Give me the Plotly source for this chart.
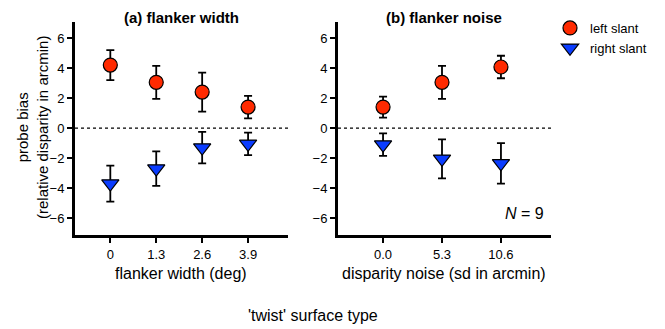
import plotly.graph_objects as go

# ---- data ----
width_x = [0, 1.3, 2.6, 3.9]
width_labels = ["0", "1.3", "2.6", "3.9"]
width_left = [4.2, 3.05, 2.4, 1.4]
width_left_err = [1.0, 1.1, 1.3, 0.75]
width_right = [-3.7, -2.7, -1.3, -1.05]
width_right_err = [1.2, 1.15, 1.05, 0.75]

noise_x = [0.0, 5.3, 10.6]
noise_labels = ["0.0", "5.3", "10.6"]
noise_left = [1.4, 3.05, 4.07]
noise_left_err = [0.7, 1.1, 0.75]
noise_right = [-1.1, -2.05, -2.35]
noise_right_err = [0.75, 1.3, 1.35]

y_ticks = [-6, -4, -2, 0, 2, 4, 6]

RED = "#ff2a00"
BLUE = "#0a3cff"
FONT = "Liberation Sans, Arial, Helvetica, sans-serif"

fig = go.Figure()

def add_series(x, y, err, xa, ya, name, color, symbol, size, show):
    fig.add_trace(go.Scatter(
        x=x, y=y, xaxis=xa, yaxis=ya, mode="markers", name=name,
        showlegend=show,
        marker=dict(color=color, symbol=symbol, size=size,
                    line=dict(color="black", width=1.2)),
        error_y=dict(type="data", array=err, visible=True,
                     color="black", thickness=1.8, width=4),
    ))

add_series(width_x, width_left, width_left_err, "x", "y", "left slant", RED, "circle", 14, True)
add_series(width_x, width_right, width_right_err, "x", "y", "right slant", BLUE, "triangle-down", 15, True)
add_series(noise_x, noise_left, noise_left_err, "x2", "y2", "left slant", RED, "circle", 14, False)
add_series(noise_x, noise_right, noise_right_err, "x2", "y2", "right slant", BLUE, "triangle-down", 15, False)

# page body has an 8px margin; work in screen pixels and convert
OFF = 8
W, H = 665 - OFF, 329 - OFF

def px(X):
    return (X - OFF) / W

def py(Y):
    return 1 - (Y - OFF) / H

axis_common = dict(showline=True, linecolor="black", linewidth=3, ticks="outside",
                   ticklen=5, tickwidth=1.5, tickcolor="black", showgrid=False,
                   zeroline=False, tickfont=dict(family=FONT, size=13, color="black"))

fig.update_layout(
    width=W, height=H, margin=dict(l=0, r=0, t=0, b=0),
    paper_bgcolor="white", plot_bgcolor="white",
    font=dict(family=FONT, color="black"),
    xaxis=dict(domain=[px(75), px(288)], range=[-1.0, 5.03], tickvals=width_x,
               ticktext=width_labels, anchor="y", **axis_common),
    yaxis=dict(domain=[py(235), py(22)], range=[-7.13, 7.07], tickvals=y_ticks,
               anchor="x", **axis_common),
    xaxis2=dict(domain=[px(338), px(551)], range=[-4.05, 15.1], tickvals=noise_x,
                ticktext=noise_labels, anchor="y2", **axis_common),
    yaxis2=dict(domain=[py(235), py(22)], range=[-7.13, 7.07], tickvals=y_ticks,
                anchor="x2", **axis_common),
    legend=dict(x=px(550), y=py(13), xanchor="left", yanchor="top",
                font=dict(family=FONT, size=13, color="black"),
                bgcolor="rgba(0,0,0,0)", tracegroupgap=0),
    showlegend=True,
)

# dotted zero lines
for xr, yr in (("x domain", "y"), ("x2 domain", "y2")):
    fig.add_shape(type="line", xref=xr, yref=yr, x0=0, x1=1, y0=0, y1=0,
                  line=dict(color="black", width=1.2, dash="dot"))

def ann(text, x, y, size, bold=False, angle=0):
    fig.add_annotation(text=f"<b>{text}</b>" if bold else text, x=px(x), y=py(y),
                       xref="paper", yref="paper", showarrow=False,
                       xanchor="center", yanchor="middle", textangle=angle,
                       font=dict(family=FONT, size=size, color="black"))

ann("(a) flanker width", 181, 17, 15, bold=True)
ann("(b) flanker noise", 444, 17, 15, bold=True)
ann("flanker width (deg)", 181, 273, 16)
ann("disparity noise (sd in arcmin)", 444, 273, 16)
ann("probe bias<br>(relative disparity in arcmin)", 32, 128, 15, angle=-90)
ann("'twist' surface type", 313, 315, 16)
ann("<i>N</i> = 9", 524, 213, 16)

fig.write_html("out.html")
